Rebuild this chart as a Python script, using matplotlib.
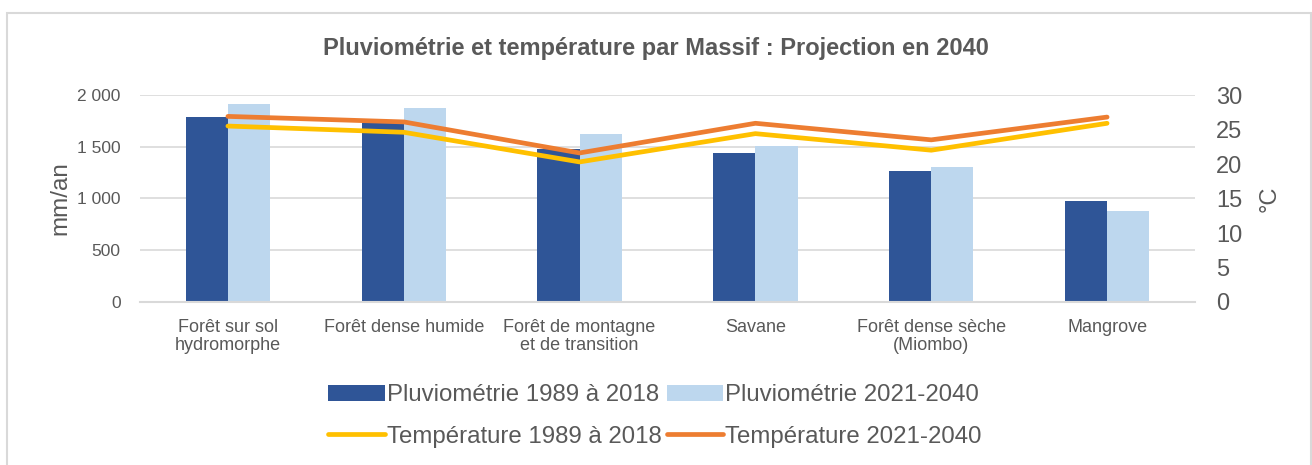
import matplotlib
matplotlib.use('Agg')
import matplotlib.pyplot as plt
from matplotlib.patches import Rectangle
import numpy as np

plt.rcParams['font.family'] = ['Liberation Sans', 'DejaVu Sans']

categories = ["Forêt sur sol\nhydromorphe", "Forêt dense humide", "Forêt de montagne\net de transition",
              "Savane", "Forêt dense sèche\n(Miombo)", "Mangrove"]
pluie_1989 = [1790, 1730, 1480, 1440, 1265, 980]
pluie_2040 = [1910, 1870, 1620, 1505, 1305, 880]
temp_1989 = [25.5, 24.6, 20.3, 24.4, 22.0, 25.9]
temp_2040 = [26.9, 26.1, 21.6, 25.9, 23.5, 26.8]
left_ticks = [0, 500, 1000, 1500, 2000]
left_labels = ["0", "500", "1 000", "1 500", "2 000"]
right_ticks = [0, 5, 10, 15, 20, 25, 30]

grey = '#595959'
fig = plt.figure(figsize=(13.12, 4.65), dpi=100)
ax = fig.add_axes([140/1312, 1-302/465, (1195-140)/1312, (302-95)/465])

x = np.arange(len(categories))
w = 0.24
b1 = ax.bar(x - w/2, pluie_1989, w, color='#2f5597', zorder=2)
b2 = ax.bar(x + w/2, pluie_2040, w, color='#bdd7ee', zorder=2)
ax.set_xlim(-0.5, len(categories) - 0.5)
ax.set_ylim(0, 2000)
ax.set_yticks(left_ticks)
ax.set_yticklabels(left_labels)
ax.set_xticks(x)
ax.set_xticklabels(categories, fontsize=13, color=grey, linespacing=1.1)
ax.tick_params(axis='y', length=0, labelsize=12.5, labelcolor=grey, pad=14)
ax.tick_params(axis='x', length=0, pad=12)
ax.grid(axis='y', color='#d9d9d9', linewidth=1.2, zorder=0)
ax.set_axisbelow(True)
for s in ['top', 'right', 'left']:
    ax.spines[s].set_visible(False)
ax.spines['bottom'].set_color('#d9d9d9')
ax.spines['bottom'].set_linewidth(1.5)
ax.set_ylabel('mm/an', fontsize=17.5, color=grey, labelpad=4)

ax2 = ax.twinx()
l1, = ax2.plot(x, temp_1989, color='#ffc000', linewidth=3.4, solid_capstyle='round')
l2, = ax2.plot(x, temp_2040, color='#ed7d31', linewidth=3.4, solid_capstyle='round')
ax2.set_ylim(0, 30)
ax2.set_yticks(right_ticks)
ax2.tick_params(axis='y', length=0, labelsize=17, labelcolor=grey, pad=15)
for s in ax2.spines.values():
    s.set_visible(False)
ax2.set_ylabel('°C', fontsize=17, color=grey, labelpad=12)

fig.text(0.5, 1-48/465, 'Pluviométrie et température par Massif : Projection en 2040',
         ha='center', va='center', fontsize=17, fontweight='bold', color=grey)

# ncol=2 fills by column, so interleave to get bars on row 1 and lines on row 2
leg = fig.legend([b1, l1, b2, l2],
                 ['Pluviométrie 1989 à 2018', 'Température 1989 à 2018',
                  'Pluviométrie 2021-2040', 'Température 2021-2040'],
                 ncol=2, loc='center', bbox_to_anchor=(655/1312, 1-416/465),
                 frameon=False, fontsize=17.3, handlelength=2.35, handleheight=0.7,
                 handletextpad=0.1, columnspacing=0.2, labelspacing=0.8)
for t in leg.get_texts():
    t.set_color(grey)

fig.patches.append(Rectangle((7/1312, -0.02), (1311-7)/1312, 1.02-13/465,
                             transform=fig.transFigure, fill=False,
                             edgecolor='#d9d9d9', linewidth=1.5))

fig.savefig('out.png', dpi=100)
